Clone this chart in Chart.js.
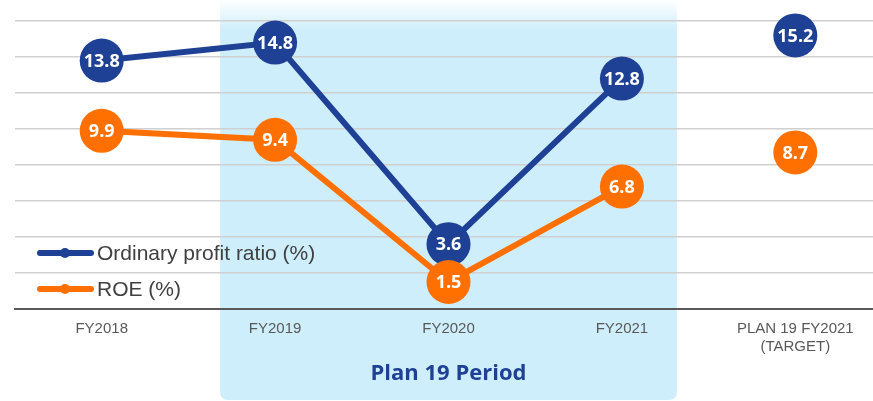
<!DOCTYPE html>
<html>
<head>
<meta charset="utf-8">
<script src="https://cdn.jsdelivr.net/npm/chart.js@4"></script>
<style>
  body { margin: 0; background: #fff; }
  #wrap { width: 873px; height: 401px; overflow: hidden; }
</style>
</head>
<body>
<div id="wrap"><canvas id="chartRatio" width="882" height="401"></canvas></div>
<script>
/* =========================
   DATA
========================= */

const categories = ["FY2018", "FY2019", "FY2020", "FY2021", ["PLAN 19 FY2021", "(TARGET)"]];
const ordinaryProfitRatio = [13.8, 14.8, 3.6, 12.8, 15.2];
const roe = [9.9, 9.4, 1.5, 6.8, 8.7];
const yMin = 0;
const yMax = 16;
const yStep = 2;

const periodLabel = "Plan 19 Period";
const periodFrom = 1; // FY2019
const periodTo = 3;   // FY2021
const targetIndex = 4;

const BLUE = "#1e4095";
const ORANGE = "#ff7000";

/* =========================
   PLUGINS
========================= */

// light blue box behind the plan period
const periodBox = {
  id: "periodBox",
  beforeDraw(chart) {
    const { ctx, scales: { x } } = chart;
    const band = (x.right - x.left) / categories.length;
    const left = x.getPixelForValue(periodFrom) - band * 0.317;
    const right = x.getPixelForValue(periodTo) + band * 0.317;
    const top = 0;
    const bottom = chart.height - 1;
    const r = 8;

    const grad = ctx.createLinearGradient(0, top, 0, top + 30);
    grad.addColorStop(0, "rgba(207,238,251,0)");
    grad.addColorStop(1, "#cfeefb");

    ctx.save();
    ctx.fillStyle = grad;
    ctx.beginPath();
    ctx.moveTo(left, top);
    ctx.lineTo(right, top);
    ctx.lineTo(right, bottom - r);
    ctx.quadraticCurveTo(right, bottom, right - r, bottom);
    ctx.lineTo(left + r, bottom);
    ctx.quadraticCurveTo(left, bottom, left, bottom - r);
    ctx.closePath();
    ctx.fill();

    ctx.fillStyle = BLUE;
    ctx.font = "bold 22px 'Open Sans'";
    ctx.textAlign = "center";
    ctx.textBaseline = "middle";
    ctx.fillText(periodLabel, (left + right) / 2, 374);
    ctx.restore();
  }
};

// values inside the circles + legend inside chart
const valueLabels = {
  id: "valueLabels",
  afterDatasetsDraw(chart) {
    const { ctx } = chart;
    ctx.save();
    ctx.fillStyle = "#fff";
    ctx.font = "bold 18px 'Open Sans'";
    ctx.textAlign = "center";
    ctx.textBaseline = "middle";
    chart.data.datasets.forEach((ds, i) => {
      chart.getDatasetMeta(i).data.forEach((pt, j) => {
        ctx.fillText(ds.data[j].toFixed(1), pt.x, pt.y + 1);
      });
    });

    // legend
    const y0 = chart.scales.y.getPixelForValue(3) - 2;
    chart.data.datasets.forEach((ds, i) => {
      const y = y0 + i * 36;
      ctx.strokeStyle = ds.borderColor;
      ctx.lineWidth = 6;
      ctx.lineCap = "round";
      ctx.beginPath();
      ctx.moveTo(40, y);
      ctx.lineTo(91, y);
      ctx.stroke();
      ctx.fillStyle = ds.borderColor;
      ctx.beginPath();
      ctx.arc(65, y, 5, 0, Math.PI * 2);
      ctx.fill();
      ctx.fillStyle = "#404040";
      ctx.font = "21px 'Liberation Sans'";
      ctx.textAlign = "left";
      ctx.fillText(ds.label, 97, y + 1);
    });
    ctx.restore();
  }
};

/* =========================
   CHART
========================= */

const hideTargetSegment = color => ctx =>
  ctx.p1DataIndex === targetIndex ? "rgba(0,0,0,0)" : color;

new Chart(document.getElementById("chartRatio"), {
  type: "line",
  data: {
    labels: categories,
    datasets: [
      {
        label: "Ordinary profit ratio (%)",
        data: ordinaryProfitRatio,
        borderColor: BLUE,
        backgroundColor: BLUE,
        borderWidth: 6,
        pointRadius: 22,
        pointBorderWidth: 0,
        order: 1,
        clip: false,
        segment: { borderColor: hideTargetSegment(BLUE) }
      },
      {
        label: "ROE (%)",
        data: roe,
        borderColor: ORANGE,
        backgroundColor: ORANGE,
        borderWidth: 6,
        pointRadius: 22,
        pointBorderWidth: 0,
        order: 0,
        clip: false,
        segment: { borderColor: hideTargetSegment(ORANGE) }
      }
    ]
  },
  options: {
    responsive: false,
    animation: false,
    events: [],
    layout: { autoPadding: false, padding: { left: 15, top: 21, right: 0, bottom: 0 } },
    plugins: {
      legend: { display: false },
      tooltip: { enabled: false }
    },
    scales: {
      x: {
        offset: true,
        afterFit: s => { s.height = 92; },
        grid: { display: false, drawTicks: false },
        border: { display: true, color: "#595959", width: 2 },
        ticks: {
          color: "#595959",
          padding: 11,
          maxRotation: 0,
          font: { family: "'Liberation Sans'", size: 15 }
        }
      },
      y: {
        min: yMin,
        max: yMax,
        afterFit: s => { s.width = 0; },
        grid: { color: "#d0d0d0", lineWidth: 1.5, drawTicks: false },
        border: { display: false },
        ticks: { display: false, stepSize: yStep }
      }
    }
  },
  plugins: [periodBox, valueLabels]
});
</script>
</body>
</html>
